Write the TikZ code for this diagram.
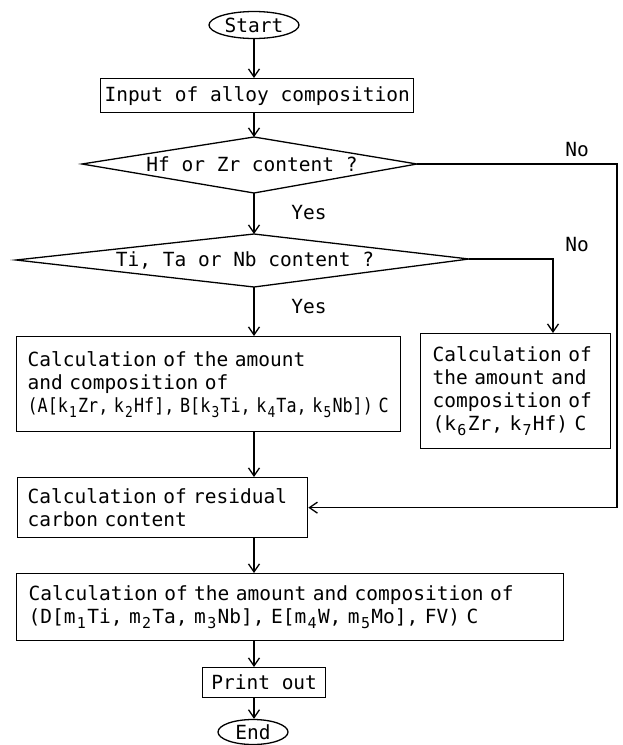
\documentclass[tikz,border=0pt]{standalone}
\usepackage{fontspec}
\usepackage{graphicx}
\setmonofont{DejaVu Sans Mono}
\usetikzlibrary{arrows.meta,shapes.geometric}
\newcommand\sbs[1]{\makebox[0.6em]{\raisebox{-5pt}{\fontsize{15}{15}\selectfont #1}}}
\begin{document}
\begin{tikzpicture}[x=1pt,y=-1pt, line width=1.3pt,
  font=\fontsize{19.5}{23}\selectfont\ttfamily,
  arr/.style={-{Straight Barb[length=8pt,width=11pt,line width=1.3pt]}},
  cbox/.style={draw, rectangle, inner sep=0pt, align=center, anchor=north west},
  lbox/.style={draw, rectangle, inner xsep=11pt, inner ysep=0pt, align=left, anchor=north west},
  term/.style={draw, ellipse, inner sep=0pt},
  lbl/.style={inner sep=0pt}]
\useasboundingbox (0,0) rectangle (623,745);

% terminals and boxes
\node[term, minimum width=90pt, minimum height=27pt] (start) at (254,25) {Start};
\node[cbox, minimum width=313pt, minimum height=34pt] (input) at (100,78) {Input of alloy composition};

% diamond 1
\coordinate (d1l) at (82,164);
\coordinate (d1t) at (254,137);
\coordinate (d1r) at (417,164);
\coordinate (d1b) at (254,193);
\draw (d1l) -- (d1t) -- (d1r) -- (d1b) -- cycle;
\node[lbl] (q1) at (252,164) {Hf or Zr content ?};

% diamond 2
\coordinate (d2l) at (16,260);
\coordinate (d2t) at (254,234);
\coordinate (d2r) at (469,259);
\coordinate (d2b) at (254,287);
\draw (d2l) -- (d2t) -- (d2r) -- (d2b) -- cycle;
\node[lbl] (q2) at (245,260) {Ti, Ta or Nb content ?};

\node[lbox, minimum width=384pt, minimum height=95pt, text width=362pt] (calcA) at (16,336)
 {Calculation of the amount\\and composition of\\\scalebox{0.86}[1]{(A[k\sbs{1}Zr, k\sbs{2}Hf], B[k\sbs{3}Ti, k\sbs{4}Ta, k\sbs{5}Nb]) C}};

\node[lbox, minimum width=190pt, minimum height=115pt, text width=166pt] (calcB) at (420,333)
 {Calculation of\\the amount and\\composition of\\(k\sbs{6}Zr, k\sbs{7}Hf) C};

\node[lbox, minimum width=290pt, minimum height=60pt, text width=270pt, inner xsep=10pt] (resid) at (17,477)
 {Calculation of residual\\carbon content};

\node[lbox, minimum width=547pt, minimum height=67pt, text width=523pt, inner xsep=12pt] (calcD) at (16,573)
 {Calculation of the amount and composition of\\(D[m\sbs{1}Ti, m\sbs{2}Ta, m\sbs{3}Nb], E[m\sbs{4}W, m\sbs{5}Mo], FV) C};

\node[cbox, minimum width=123pt, minimum height=30pt] (print) at (202,667) {Print out};
\node[term, minimum width=70pt, minimum height=25pt] (end) at (253,732) {End};

% labels
\node[lbl] (no1) at (577,150) {No};
\node[lbl] (no2) at (577,245) {No};
\node[lbl] (yes1) at (309,213) {Yes};
\node[lbl] (yes2) at (309,307) {Yes};

% connectors
\coordinate (c1) at (617,164);
\coordinate (c2) at (553,259);
\draw[arr] (start.south) -- (start.south |- input.north);
\draw[arr] (input.south -| d1t) -- (d1t);
\draw[arr] (d1b) -- (d2t);
\draw[arr] (d1r) -- (c1) |- (resid.east);
\draw[arr] (d2r) -- (c2) -- (c2 |- calcB.north);
\draw[arr] (d2b) -- (d2b |- calcA.north);
\draw[arr] (calcA.south -| d2b) -- (d2b |- resid.north);
\draw[arr] (resid.south -| d2b) -- (d2b |- calcD.north);
\draw[arr] (calcD.south -| d2b) -- (d2b |- print.north);
\draw[arr] (print.south -| d2b) -- (d2b |- end.north);
\end{tikzpicture}
\end{document}
